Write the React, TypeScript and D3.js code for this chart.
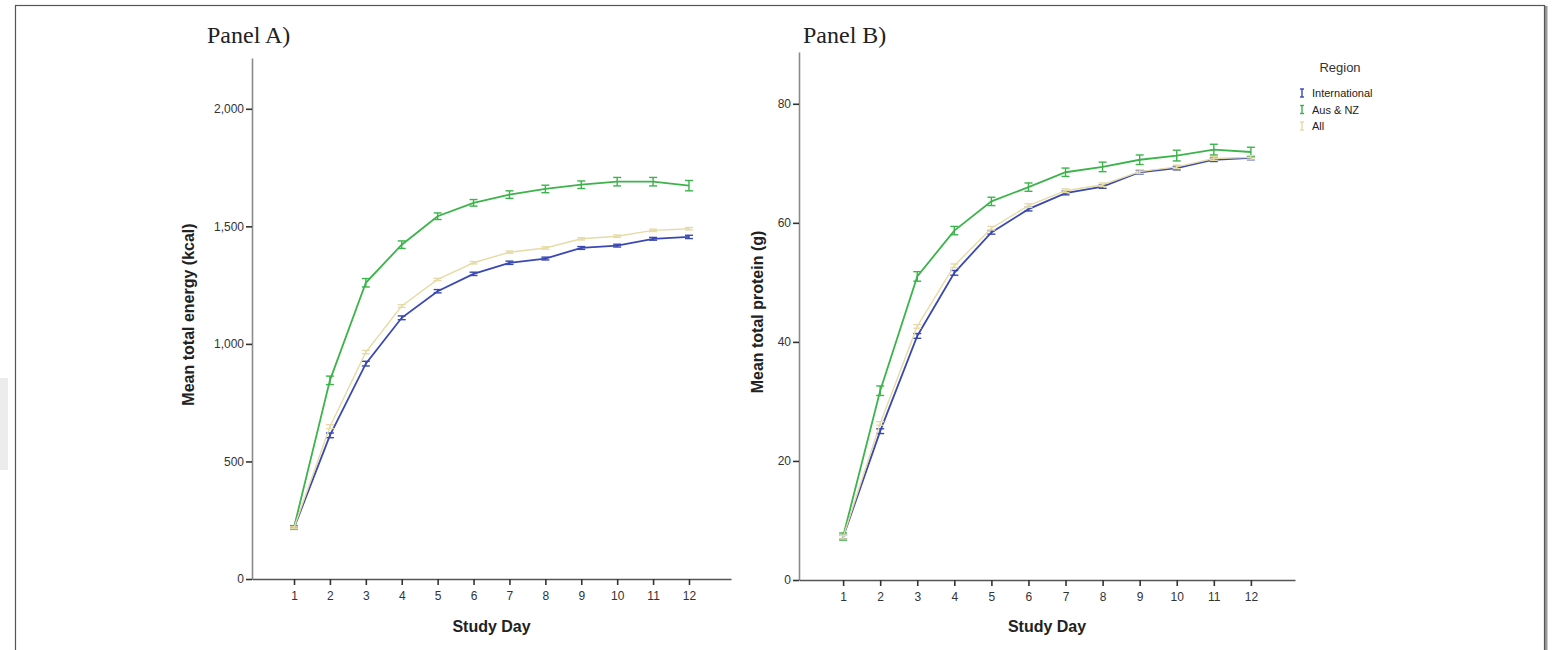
import React, { useRef, useEffect } from 'react';
import * as d3 from 'd3';

const days = [1, 2, 3, 4, 5, 6, 7, 8, 9, 10, 11, 12];

// Panel A: mean total energy (kcal)
const energyIntl = [217, 611, 916, 1111, 1224, 1298, 1345, 1363, 1408, 1418, 1447, 1455];
const energyAusNz = [219, 845, 1260, 1422, 1543, 1600, 1635, 1659, 1677, 1690, 1690, 1673];
const energyAll = [218, 648, 965, 1161, 1274, 1345, 1390, 1408, 1447, 1458, 1483, 1490];
const energyIntlErr = [5, 10, 10, 8, 7, 7, 7, 6, 6, 6, 6, 7];
const energyAusNzErr = [8, 18, 18, 16, 14, 14, 16, 16, 16, 18, 18, 22];
const energyAllErr = [4, 8, 7, 6, 5, 5, 5, 5, 5, 5, 5, 5];

// Panel B: mean total protein (g)
const proteinIntl = [7.2, 25.0, 41.0, 51.6, 58.4, 62.3, 65.0, 66.1, 68.5, 69.2, 70.6, 70.9];
const proteinAusNz = [7.3, 31.8, 51.0, 58.7, 63.6, 66.0, 68.5, 69.4, 70.6, 71.3, 72.3, 71.9];
const proteinAll = [7.2, 26.3, 42.6, 52.8, 59.1, 62.9, 65.4, 66.4, 68.6, 69.4, 70.8, 71.0];
const proteinIntlErr = [0.3, 0.4, 0.4, 0.4, 0.3, 0.3, 0.3, 0.3, 0.3, 0.3, 0.3, 0.3];
const proteinAusNzErr = [0.6, 0.8, 0.8, 0.7, 0.7, 0.7, 0.7, 0.8, 0.8, 0.9, 0.9, 0.8];
const proteinAllErr = [0.3, 0.3, 0.3, 0.3, 0.3, 0.3, 0.3, 0.3, 0.3, 0.3, 0.3, 0.3];

const energyTicks = [0, 500, 1000, 1500, 2000];
const proteinTicks = [0, 20, 40, 60, 80];

const regions = ['International', 'Aus & NZ', 'All'];
const regionColors = ['#3a48b2', '#3cb44b', '#e6dba6'];

const SANS = '"Liberation Sans", Arial, sans-serif';
const SERIF = '"Liberation Serif", "Times New Roman", serif';

interface Panel {
  title: string;
  titleX: number;
  yLabel: string;
  yLabelX: number;
  xRange: [number, number];
  xDomain: [number, number];
  yRange: [number, number];
  yDomain: [number, number];
  yTicks: number[];
  series: number[][];
  errors: number[][];
}

const panels: Panel[] = [
  {
    title: 'Panel A)',
    titleX: 207,
    yLabel: 'Mean total energy (kcal)',
    yLabelX: 194,
    xRange: [252, 731],
    xDomain: [-0.17, 13.17],
    yRange: [579, 58],
    yDomain: [0, 2216],
    yTicks: energyTicks,
    series: [energyIntl, energyAusNz, energyAll],
    errors: [energyIntlErr, energyAusNzErr, energyAllErr],
  },
  {
    title: 'Panel B)',
    titleX: 803,
    yLabel: 'Mean total protein (g)',
    yLabelX: 763,
    xRange: [799, 1295],
    xDomain: [-0.19, 13.19],
    yRange: [580, 52],
    yDomain: [0, 88.7],
    yTicks: proteinTicks,
    series: [proteinIntl, proteinAusNz, proteinAll],
    errors: [proteinIntlErr, proteinAusNzErr, proteinAllErr],
  },
];

export default function App() {
  const svgRef = useRef<SVGSVGElement>(null);

  useEffect(() => {
    if (!svgRef.current) return;
    const svg = d3.select(svgRef.current);
    svg.selectAll('*').remove();

    // faint grey patch at the left page edge
    svg.append('rect')
      .attr('x', 0).attr('y', 378).attr('width', 8).attr('height', 92)
      .attr('fill', '#ececec');

    // outer frame with a soft shadow on the right
    svg.append('line')
      .attr('x1', 1546).attr('x2', 1546).attr('y1', 6).attr('y2', 650)
      .attr('stroke', '#9a9a9a').attr('stroke-width', 3);
    svg.append('rect')
      .attr('x', 15.5).attr('y', 5.5).attr('width', 1529).attr('height', 700)
      .attr('fill', '#fff').attr('stroke', '#555').attr('stroke-width', 1.2);

    panels.forEach(p => {
      const x = d3.scaleLinear().domain(p.xDomain).range(p.xRange);
      const y = d3.scaleLinear().domain(p.yDomain).range(p.yRange);
      const g = svg.append('g');

      // title
      g.append('text')
        .attr('x', p.titleX).attr('y', 43)
        .attr('font-family', SERIF).attr('font-size', 24).attr('fill', '#222')
        .text(p.title);

      // y axis
      const yAxis = d3.axisLeft(y).tickValues(p.yTicks).tickSize(6).tickSizeOuter(0)
        .tickPadding(2).tickFormat(d3.format(','));
      const ya = g.append('g').attr('transform', `translate(${p.xRange[0]},0)`).call(yAxis);
      ya.select('.domain').attr('stroke', '#8a8a8a').attr('stroke-width', 1.6);
      ya.selectAll('.tick line').attr('stroke', '#333').attr('stroke-width', 1.6);
      ya.selectAll('.tick text').attr('font-family', SANS).attr('font-size', 12).attr('fill', '#333');

      // x axis
      const xAxis = d3.axisBottom(x).tickValues(days).tickSize(6).tickSizeOuter(0)
        .tickPadding(6).tickFormat(d3.format('d'));
      const xa = g.append('g').attr('transform', `translate(0,${p.yRange[0]})`).call(xAxis);
      xa.select('.domain').attr('stroke', '#555').attr('stroke-width', 1.6);
      xa.selectAll('.tick line').attr('stroke', '#333').attr('stroke-width', 1.6);
      xa.selectAll('.tick text').attr('font-family', SANS).attr('font-size', 12).attr('fill', '#333');

      // axis titles
      g.append('text')
        .attr('x', (x(1) + x(12)) / 2).attr('y', 632)
        .attr('text-anchor', 'middle')
        .attr('font-family', SANS).attr('font-weight', 'bold').attr('font-size', 16).attr('fill', '#222')
        .text('Study Day');
      g.append('text')
        .attr('transform', `translate(${p.yLabelX},${(p.yRange[0] + p.yRange[1]) / 2 - 4}) rotate(-90)`)
        .attr('text-anchor', 'middle')
        .attr('font-family', SANS).attr('font-weight', 'bold').attr('font-size', 16).attr('fill', '#222')
        .text(p.yLabel);

      // lines with error bars
      p.series.forEach((vals, si) => {
        const color = regionColors[si];
        const pts = days.map((d, i) => ({ day: d, value: vals[i], err: p.errors[si][i] }));
        const line = d3.line<{ day: number; value: number }>()
          .x(d => x(d.day))
          .y(d => y(d.value));
        g.append('path')
          .datum(pts)
          .attr('fill', 'none')
          .attr('stroke', color)
          .attr('stroke-width', si === 2 ? 1.4 : 1.8)
          .attr('d', line);

        const bars = g.append('g').attr('stroke', color).attr('stroke-width', 1.4);
        pts.forEach(d => {
          const cx = x(d.day);
          const y0 = y(d.value - d.err);
          const y1 = y(d.value + d.err);
          bars.append('line').attr('x1', cx).attr('x2', cx).attr('y1', y0).attr('y2', y1);
          bars.append('line').attr('x1', cx - 4).attr('x2', cx + 4).attr('y1', y0).attr('y2', y0);
          bars.append('line').attr('x1', cx - 4).attr('x2', cx + 4).attr('y1', y1).attr('y2', y1);
        });
      });
    });

    // legend
    const lg = svg.append('g');
    lg.append('text')
      .attr('x', 1340).attr('y', 72)
      .attr('text-anchor', 'middle')
      .attr('font-family', SANS).attr('font-size', 13).attr('fill', '#333')
      .text('Region');
    regions.forEach((r, i) => {
      const cy = 93 + i * 16.5;
      const color = regionColors[i];
      const m = lg.append('g').attr('stroke', color).attr('stroke-width', 1.4);
      m.append('line').attr('x1', 1302).attr('x2', 1302).attr('y1', cy - 4).attr('y2', cy + 4);
      m.append('line').attr('x1', 1300).attr('x2', 1304).attr('y1', cy - 4).attr('y2', cy - 4);
      m.append('line').attr('x1', 1300).attr('x2', 1304).attr('y1', cy + 4).attr('y2', cy + 4);
      lg.append('text')
        .attr('x', 1312).attr('y', cy + 4)
        .attr('font-family', SANS).attr('font-size', 11).attr('fill', '#222')
        .text(r);
    });
  }, []);

  return (
    <svg
      ref={svgRef}
      width={1556}
      height={650}
      style={{ position: 'absolute', left: 0, top: 0, display: 'block', background: '#fff' }}
    />
  );
}
